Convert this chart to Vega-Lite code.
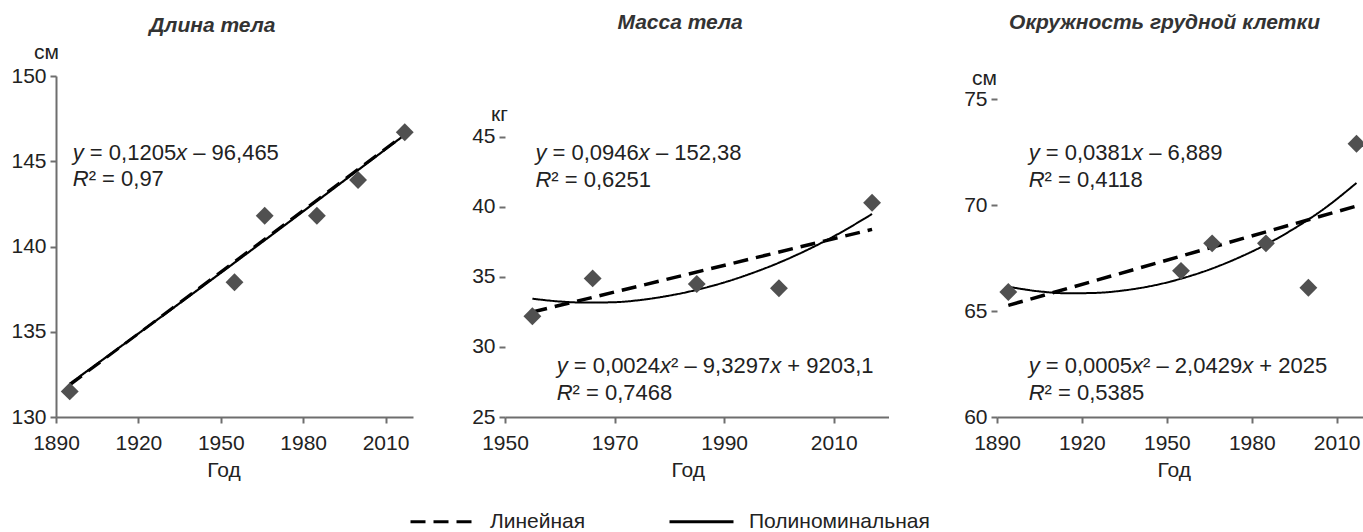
{
  "$schema": "https://vega.github.io/schema/vega-lite/v6.json",
  "padding": {"left": 10, "top": 12, "right": 0, "bottom": 0},
  "background": "white",
  "config": {
    "font": "Liberation Sans",
    "view": {"stroke": null},
    "axis": {
      "domainColor": "#6e6e6e", "domainWidth": 2, "tickColor": "#6e6e6e", "tickWidth": 2, "tickSize": 6,
      "labelFontSize": 21, "labelColor": "#222222", "labelFont": "Liberation Sans",
      "titleFontSize": 21, "titleFontWeight": "normal", "titleColor": "#222222", "titleFont": "Liberation Sans",
      "grid": false, "labelFlush": false, "labelOverlap": false
    },
    "axisX": {"labelPadding": 9},
    "axisY": {"labelPadding": 4},
    "title": {"fontSize": 21, "fontWeight": "bold", "fontStyle": "italic", "color": "#333333", "frame": "bounds", "anchor": "middle", "font": "Liberation Sans"},
    "text": {"fontSize": 22, "align": "left", "baseline": "alphabetic", "color": "#222222", "font": "Liberation Sans"}
  },
  "datasets": {
    "pts1": [
      {"year": 1895, "value": 131.5}, {"year": 1955, "value": 137.9}, {"year": 1966, "value": 141.8},
      {"year": 1985, "value": 141.8}, {"year": 2000, "value": 143.9}, {"year": 2017, "value": 146.7}
    ],
    "lines1": [
      {"type": "Линейная", "year": 1895, "value": 131.88}, {"type": "Линейная", "year": 2017, "value": 146.58},
      {"type": "Полиноминальная", "year": 1895, "value": 131.95}, {"type": "Полиноминальная", "year": 1955, "value": 139.05}, {"type": "Полиноминальная", "year": 2017, "value": 146.55}
    ],
    "eq1": [
      {"slot": "a", "t": "y", "year": 1896.1, "value": 145.09},
      {"slot": "b", "t": "= 0,1205", "year": 1896.1, "value": 145.09},
      {"slot": "c", "t": "x", "year": 1896.1, "value": 145.09},
      {"slot": "d", "t": "– 96,465", "year": 1896.1, "value": 145.09},
      {"slot": "r", "t": "R", "year": 1896.1, "value": 143.53},
      {"slot": "s", "t": "² = 0,97", "year": 1896.1, "value": 143.53}
    ],
    "pts2": [
      {"year": 1955, "value": 32.2}, {"year": 1966, "value": 34.9}, {"year": 1985, "value": 34.5},
      {"year": 2000, "value": 34.2}, {"year": 2017, "value": 40.3}
    ],
    "lines2": [
      {"type": "Линейная", "year": 1955, "value": 32.5}, {"type": "Линейная", "year": 2017, "value": 38.4},
      {"type": "Полиноминальная", "year": 1955, "value": 33.45}, {"type": "Полиноминальная", "year": 1960, "value": 33.25},
      {"type": "Полиноминальная", "year": 1965, "value": 33.17}, {"type": "Полиноминальная", "year": 1970, "value": 33.2},
      {"type": "Полиноминальная", "year": 1975, "value": 33.37}, {"type": "Полиноминальная", "year": 1980, "value": 33.67},
      {"type": "Полиноминальная", "year": 1985, "value": 34.08}, {"type": "Полиноминальная", "year": 1990, "value": 34.61},
      {"type": "Полиноминальная", "year": 1995, "value": 35.26}, {"type": "Полиноминальная", "year": 2000, "value": 36.02},
      {"type": "Полиноминальная", "year": 2005, "value": 36.9}, {"type": "Полиноминальная", "year": 2010, "value": 37.9},
      {"type": "Полиноминальная", "year": 2017, "value": 39.5}
    ],
    "eq2": [
      {"slot": "a", "t": "y", "year": 1955.55, "value": 43.38},
      {"slot": "b", "t": "= 0,0946", "year": 1955.55, "value": 43.38},
      {"slot": "c", "t": "x", "year": 1955.55, "value": 43.38},
      {"slot": "d", "t": "– 152,38", "year": 1955.55, "value": 43.38},
      {"slot": "r", "t": "R", "year": 1955.55, "value": 41.41},
      {"slot": "s", "t": "² = 0,6251", "year": 1955.55, "value": 41.41},
      {"slot": "a", "t": "y", "year": 1959.44, "value": 28.14},
      {"slot": "b", "t": "= 0,0024", "year": 1959.44, "value": 28.14},
      {"slot": "c", "t": "x", "year": 1959.44, "value": 28.14},
      {"slot": "g", "t": "² – 9,3297", "year": 1959.44, "value": 28.14},
      {"slot": "e", "t": "x", "year": 1959.44, "value": 28.14},
      {"slot": "f", "t": "+ 9203,1", "year": 1959.44, "value": 28.14},
      {"slot": "r", "t": "R", "year": 1959.44, "value": 26.24},
      {"slot": "s", "t": "² = 0,7468", "year": 1959.44, "value": 26.24}
    ],
    "pts3": [
      {"year": 1894, "value": 65.9}, {"year": 1955, "value": 66.9}, {"year": 1966, "value": 68.2},
      {"year": 1985, "value": 68.2}, {"year": 2000, "value": 66.1}, {"year": 2017, "value": 72.9}
    ],
    "lines3": [
      {"type": "Линейная", "year": 1894, "value": 65.27}, {"type": "Линейная", "year": 2017, "value": 69.96},
      {"type": "Полиноминальная", "year": 1894, "value": 66.15}, {"type": "Полиноминальная", "year": 1905, "value": 65.93},
      {"type": "Полиноминальная", "year": 1915, "value": 65.84}, {"type": "Полиноминальная", "year": 1925, "value": 65.86},
      {"type": "Полиноминальная", "year": 1935, "value": 65.98}, {"type": "Полиноминальная", "year": 1945, "value": 66.2},
      {"type": "Полиноминальная", "year": 1955, "value": 66.53}, {"type": "Полиноминальная", "year": 1965, "value": 66.96},
      {"type": "Полиноминальная", "year": 1975, "value": 67.5}, {"type": "Полиноминальная", "year": 1985, "value": 68.14},
      {"type": "Полиноминальная", "year": 1995, "value": 68.9}, {"type": "Полиноминальная", "year": 2005, "value": 69.78},
      {"type": "Полиноминальная", "year": 2017, "value": 71.05}
    ],
    "eq3": [
      {"slot": "a", "t": "y", "year": 1901.2, "value": 72.15},
      {"slot": "b", "t": "= 0,0381", "year": 1901.2, "value": 72.15},
      {"slot": "c", "t": "x", "year": 1901.2, "value": 72.15},
      {"slot": "d", "t": "– 6,889", "year": 1901.2, "value": 72.15},
      {"slot": "r", "t": "R", "year": 1901.2, "value": 70.85},
      {"slot": "s", "t": "² = 0,4118", "year": 1901.2, "value": 70.85},
      {"slot": "a", "t": "y", "year": 1901.2, "value": 62.08},
      {"slot": "b", "t": "= 0,0005", "year": 1901.2, "value": 62.08},
      {"slot": "c", "t": "x", "year": 1901.2, "value": 62.08},
      {"slot": "g", "t": "² – 2,0429", "year": 1901.2, "value": 62.08},
      {"slot": "e", "t": "x", "year": 1901.2, "value": 62.08},
      {"slot": "f", "t": "+ 2025", "year": 1901.2, "value": 62.08},
      {"slot": "r", "t": "R", "year": 1901.2, "value": 60.82},
      {"slot": "s", "t": "² = 0,5385", "year": 1901.2, "value": 60.82}
    ]
  },
  "spacing": 57,
  "hconcat": [
    {
      "width": 357, "height": 341,
      "title": {"text": "Длина тела", "offset": 5},
      "encoding": {
        "x": {"field": "year", "type": "quantitative",
          "scale": {"domain": [1890, 2020], "nice": false, "zero": false},
          "axis": {"values": [1890, 1920, 1950, 1980, 2010], "format": "d", "title": "Год", "titleX": 167.5, "titleY": 59, "titleBaseline": "alphabetic", "titleAlign": "center"}},
        "y": {"field": "value", "type": "quantitative",
          "scale": {"domain": [130, 150], "nice": false, "zero": false},
          "axis": {"values": [130, 135, 140, 145, 150], "title": "см", "titleAngle": 0, "titleAlign": "center", "titleBaseline": "middle", "titleX": -10, "titleY": -24}}
      },
      "layer": [
        {"data": {"name": "lines1"}, "transform": [{"filter": "datum.type === 'Полиноминальная'"}],
         "mark": {"type": "line", "color": "black", "strokeWidth": 2.2, "interpolate": "monotone"},
         "encoding": {"strokeDash": {"field": "type", "type": "nominal",
           "scale": {"domain": ["Линейная", "Полиноминальная"], "range": [[15, 8], [1, 0]]},
           "legend": {"orient": "none", "legendX": 353, "legendY": 412, "direction": "horizontal", "title": null,
             "labelFontSize": 21, "labelColor": "#222222", "labelOffset": 14, "columnPadding": 77, "labelLimit": 400,
             "symbolType": "stroke", "symbolSize": 4096, "symbolStrokeWidth": 3, "symbolStrokeColor": "black",
             "encode": {"symbols": {"update": {"strokeDash": {"signal": "datum.value === 'Линейная' ? [10, 7] : [1, 0]"}}}}}}}},
        {"data": {"name": "lines1"}, "transform": [{"filter": "datum.type === 'Линейная'"}],
         "mark": {"type": "line", "color": "black", "strokeWidth": 3}, "encoding": {"strokeDash": {"field": "type", "type": "nominal"}}},
        {"data": {"name": "pts1"}, "mark": {"type": "point", "shape": "diamond", "filled": true, "size": 320, "color": "#505050", "opacity": 1}},
        {"data": {"name": "eq1"}, "transform": [{"filter": "datum.slot === 'a' || datum.slot === 'r'"}], "mark": {"type": "text", "fontStyle": "italic"}, "encoding": {"text": {"field": "t"}}},
        {"data": {"name": "eq1"}, "transform": [{"filter": "datum.slot === 'b'"}], "mark": {"type": "text", "dx": 17.11}, "encoding": {"text": {"field": "t"}}},
        {"data": {"name": "eq1"}, "transform": [{"filter": "datum.slot === 'c'"}], "mark": {"type": "text", "dx": 103.36, "fontStyle": "italic"}, "encoding": {"text": {"field": "t"}}},
        {"data": {"name": "eq1"}, "transform": [{"filter": "datum.slot === 'd'"}], "mark": {"type": "text", "dx": 120.47}, "encoding": {"text": {"field": "t"}}},
        {"data": {"name": "eq1"}, "transform": [{"filter": "datum.slot === 's'"}], "mark": {"type": "text", "dx": 15.89}, "encoding": {"text": {"field": "t"}}}
      ]
    },
    {
      "spacing": 74,
      "hconcat": [
        {
          "width": 383.5, "height": 341,
          "title": {"text": "Масса тела", "offset": 43},
          "encoding": {
            "x": {"field": "year", "type": "quantitative",
              "scale": {"domain": [1950, 2020], "nice": false, "zero": false},
              "axis": {"values": [1950, 1970, 1990, 2010], "format": "d", "title": "Год", "titleX": 182.7, "titleY": 59, "titleBaseline": "alphabetic", "titleAlign": "center"}},
            "y": {"field": "value", "type": "quantitative",
              "scale": {"domain": [25, 49.357], "nice": false, "zero": false},
              "axis": {"values": [25, 30, 35, 40, 45], "domain": false, "title": "кг", "titleAngle": 0, "titleAlign": "center", "titleBaseline": "middle", "titleX": -6, "titleY": 38}}
          },
          "layer": [
            {"data": {"values": [{}]}, "mark": {"type": "rule", "color": "#6e6e6e", "strokeWidth": 2},
             "encoding": {"x": {"datum": 1950}, "y": {"datum": 25}, "y2": {"datum": 45}}},
            {"data": {"name": "lines2"}, "transform": [{"filter": "datum.type === 'Полиноминальная'"}],
             "mark": {"type": "line", "color": "black", "strokeWidth": 2, "interpolate": "monotone"}, "encoding": {"strokeDash": {"field": "type", "type": "nominal"}}},
            {"data": {"name": "lines2"}, "transform": [{"filter": "datum.type === 'Линейная'"}],
             "mark": {"type": "line", "color": "black", "strokeWidth": 3.5}, "encoding": {"strokeDash": {"field": "type", "type": "nominal"}}},
            {"data": {"name": "pts2"}, "mark": {"type": "point", "shape": "diamond", "filled": true, "size": 320, "color": "#505050", "opacity": 1}},
            {"data": {"name": "eq2"}, "transform": [{"filter": "datum.slot === 'a' || datum.slot === 'r'"}], "mark": {"type": "text", "fontStyle": "italic"}, "encoding": {"text": {"field": "t"}}},
            {"data": {"name": "eq2"}, "transform": [{"filter": "datum.slot === 'b'"}], "mark": {"type": "text", "dx": 17.11}, "encoding": {"text": {"field": "t"}}},
            {"data": {"name": "eq2"}, "transform": [{"filter": "datum.slot === 'c'"}], "mark": {"type": "text", "dx": 103.36, "fontStyle": "italic"}, "encoding": {"text": {"field": "t"}}},
            {"data": {"name": "eq2"}, "transform": [{"filter": "datum.slot === 'd'"}], "mark": {"type": "text", "dx": 120.47}, "encoding": {"text": {"field": "t"}}},
            {"data": {"name": "eq2"}, "transform": [{"filter": "datum.slot === 'g'"}], "mark": {"type": "text", "dx": 114.36}, "encoding": {"text": {"field": "t"}}},
            {"data": {"name": "eq2"}, "transform": [{"filter": "datum.slot === 'e'"}], "mark": {"type": "text", "dx": 213.44, "fontStyle": "italic"}, "encoding": {"text": {"field": "t"}}},
            {"data": {"name": "eq2"}, "transform": [{"filter": "datum.slot === 'f'"}], "mark": {"type": "text", "dx": 230.55}, "encoding": {"text": {"field": "t"}}},
            {"data": {"name": "eq2"}, "transform": [{"filter": "datum.slot === 's'"}], "mark": {"type": "text", "dx": 15.89}, "encoding": {"text": {"field": "t"}}}
          ]
        },
        {
          "width": 368, "height": 341,
          "title": {"text": "Окружность грудной клетки", "offset": 34},
          "encoding": {
            "x": {"field": "year", "type": "quantitative",
              "scale": {"domain": [1890, 2020], "nice": false, "zero": false},
              "axis": {"values": [1890, 1920, 1950, 1980, 2010], "format": "d", "title": "Год", "titleX": 176.7, "titleY": 59, "titleBaseline": "alphabetic", "titleAlign": "center"}},
            "y": {"field": "value", "type": "quantitative",
              "scale": {"domain": [60, 76.1], "nice": false, "zero": false},
              "axis": {"values": [60, 65, 70, 75], "domain": false, "title": "см", "titleAngle": 0, "titleAlign": "center", "titleBaseline": "middle", "titleX": -13, "titleY": 2}}
          },
          "layer": [
            {"data": {"values": [{}]}, "mark": {"type": "rule", "color": "#6e6e6e", "strokeWidth": 2},
             "encoding": {"x": {"datum": 1890}, "y": {"datum": 60}, "y2": {"datum": 75}}},
            {"data": {"name": "lines3"}, "transform": [{"filter": "datum.type === 'Полиноминальная'"}],
             "mark": {"type": "line", "color": "black", "strokeWidth": 2, "interpolate": "monotone"}, "encoding": {"strokeDash": {"field": "type", "type": "nominal"}}},
            {"data": {"name": "lines3"}, "transform": [{"filter": "datum.type === 'Линейная'"}],
             "mark": {"type": "line", "color": "black", "strokeWidth": 3.5}, "encoding": {"strokeDash": {"field": "type", "type": "nominal"}}},
            {"data": {"name": "pts3"}, "mark": {"type": "point", "shape": "diamond", "filled": true, "size": 320, "color": "#505050", "opacity": 1}},
            {"data": {"name": "eq3"}, "transform": [{"filter": "datum.slot === 'a' || datum.slot === 'r'"}], "mark": {"type": "text", "fontStyle": "italic"}, "encoding": {"text": {"field": "t"}}},
            {"data": {"name": "eq3"}, "transform": [{"filter": "datum.slot === 'b'"}], "mark": {"type": "text", "dx": 17.11}, "encoding": {"text": {"field": "t"}}},
            {"data": {"name": "eq3"}, "transform": [{"filter": "datum.slot === 'c'"}], "mark": {"type": "text", "dx": 103.36, "fontStyle": "italic"}, "encoding": {"text": {"field": "t"}}},
            {"data": {"name": "eq3"}, "transform": [{"filter": "datum.slot === 'd'"}], "mark": {"type": "text", "dx": 120.47}, "encoding": {"text": {"field": "t"}}},
            {"data": {"name": "eq3"}, "transform": [{"filter": "datum.slot === 'g'"}], "mark": {"type": "text", "dx": 114.36}, "encoding": {"text": {"field": "t"}}},
            {"data": {"name": "eq3"}, "transform": [{"filter": "datum.slot === 'e'"}], "mark": {"type": "text", "dx": 213.44, "fontStyle": "italic"}, "encoding": {"text": {"field": "t"}}},
            {"data": {"name": "eq3"}, "transform": [{"filter": "datum.slot === 'f'"}], "mark": {"type": "text", "dx": 230.55}, "encoding": {"text": {"field": "t"}}},
            {"data": {"name": "eq3"}, "transform": [{"filter": "datum.slot === 's'"}], "mark": {"type": "text", "dx": 15.89}, "encoding": {"text": {"field": "t"}}}
          ]
        }
      ]
    }
  ]
}
